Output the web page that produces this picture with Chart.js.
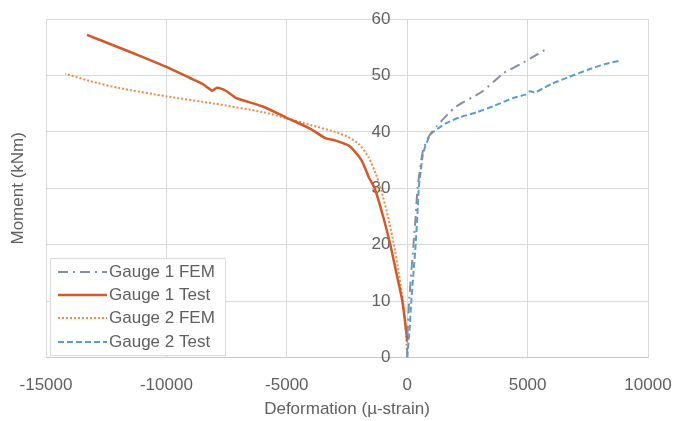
<!DOCTYPE html>
<html>
<head>
<meta charset="utf-8">
<script src="https://cdn.jsdelivr.net/npm/chart.js@4/dist/chart.umd.min.js"></script>
<style>
  html, body { margin: 0; padding: 0; background: #fff; }
</style>
</head>
<body>
<canvas id="chart" width="676" height="421"></canvas>
<script>
// ticks
const xTicks = [-15000, -10000, -5000, 0, 5000, 10000];
const yTicks = [0, 10, 20, 30, 40, 50, 60];

// Gauge 1 FEM (grey dash-dot)
const g1FemX = [0, 0, 80, 170, 260, 350, 430, 520, 660, 900, 1200, 2000, 3100, 4000, 4700, 5350, 5700];
const g1FemY = [0, 3, 10, 15, 20, 25, 30, 33, 36.8, 39.2, 40.9, 44.4, 47.1, 50.4, 52, 53.6, 54.5];

// Gauge 1 Test (orange solid)
const g1TestX = [0, -50, -200, -450, -700, -1000, -1350, -1600, -1900, -2400, -3000, -3400, -4000, -5000, -6000, -7100, -7500, -7900, -8100, -8500, -9000, -10000, -11000, -12000, -13300];
const g1TestY = [3, 5, 10, 15, 20, 25, 30, 32, 35, 37.5, 38.5, 38.9, 40.5, 42.5, 44.5, 46.0, 47.2, 47.8, 47.3, 48.5, 49.5, 51.5, 53.3, 55, 57.2];

// Gauge 2 FEM (orange dotted)
const g2FemX = [0, -60, -180, -350, -550, -800, -1100, -1300, -1600, -2000, -2500, -3000, -4000, -5000, -6000, -8000, -10000, -12000, -13000, -14200];
const g2FemY = [0, 5, 10, 15, 20, 25, 30, 32.5, 35.5, 37.8, 39.2, 40, 41.2, 42.4, 43.5, 45, 46.3, 47.8, 48.8, 50.3];

// Gauge 2 Test (blue dashed)
const g2TestX = [0, 100, 170, 260, 350, 420, 480, 560, 650, 800, 1000, 1600, 2200, 2900, 3600, 4400, 4900, 5100, 5300, 6000, 6700, 7500, 8200, 8800];
const g2TestY = [0, 5, 10, 15, 20, 25, 30, 33, 36, 38, 39.7, 41.5, 42.6, 43.5, 44.6, 46, 46.6, 47.2, 47, 48.5, 49.7, 51, 52, 52.6];

const pts = (xs, ys) => xs.map((x, i) => ({x: x, y: ys[i]}));

const TEXT = '#5f5f5f';
const FONT = '17px "Liberation Sans", Arial, sans-serif';
Chart.defaults.font.family = '"Liberation Sans", Arial, sans-serif';
Chart.defaults.font.size = 17;
Chart.defaults.color = TEXT;

// axis titles + legend box inside the plot, drawn by hand
const extras = {
    id: 'extras',
    afterDraw(chart){
        const ctx = chart.ctx;
        const area = chart.chartArea;
        ctx.save();
        ctx.fillStyle = TEXT;
        ctx.font = FONT;
        ctx.textAlign = 'center';
        ctx.textBaseline = 'middle';
        ctx.fillText('Deformation (\u00b5-strain)', (area.left + area.right) / 2, 409);
        ctx.translate(18, (area.top + area.bottom) / 2);
        ctx.rotate(-Math.PI / 2);
        ctx.fillText('Moment (kNm)', 0, 0);
        ctx.restore();

        // legend
        ctx.save();
        ctx.fillStyle = '#fff';
        ctx.fillRect(50, 258, 175, 97);
        ctx.strokeStyle = '#d9d9d9';
        ctx.lineWidth = 1;
        ctx.strokeRect(50.5, 258.5, 175, 97);
        const rows = [272, 295, 318, 342];
        chart.data.datasets.forEach((ds, i) => {
            const y = rows[i];
            ctx.beginPath();
            ctx.setLineDash(ds.borderDash || []);
            ctx.strokeStyle = ds.borderColor;
            ctx.lineWidth = ds.borderWidth;
            ctx.moveTo(58, y);
            ctx.lineTo(107, y);
            ctx.stroke();
            ctx.setLineDash([]);
            ctx.fillStyle = TEXT;
            ctx.font = FONT;
            ctx.textBaseline = 'middle';
            ctx.textAlign = 'left';
            ctx.fillText(ds.label, 109, y);
        });
        ctx.restore();
    }
};

const line = (label, data, color, width, dash) => ({
    label: label,
    data: data,
    borderColor: color,
    backgroundColor: color,
    borderWidth: width,
    borderDash: dash,
    pointRadius: 0,
    tension: 0.2,
    fill: false
});

new Chart(document.getElementById('chart'), {
    type: 'line',
    data: {
        datasets: [
            line('Gauge 1 FEM', pts(g1FemX, g1FemY), '#848f9c', 2, [10, 5, 2, 5]),
            line('Gauge 1 Test', pts(g1TestX, g1TestY), '#d25a2a', 2.5, []),
            line('Gauge 2 FEM', pts(g2FemX, g2FemY), '#ee8a4c', 2, [2, 2]),
            line('Gauge 2 Test', pts(g2TestX, g2TestY), '#5b9bd5', 2, [6, 3])
        ]
    },
    options: {
        responsive: false,
        animation: false,
        layout: { padding: { left: 46, right: 28, top: 19, bottom: 25 } },
        plugins: { legend: { display: false }, tooltip: { enabled: false } },
        scales: {
            x: {
                type: 'linear',
                min: -15000, max: 10000,
                afterBuildTicks: s => { s.ticks = xTicks.map(v => ({value: v})); },
                ticks: { padding: 0, callback: v => String(v) },
                grid: { color: '#d9d9d9', drawTicks: true, tickLength: 18, tickColor: 'rgba(0,0,0,0)' },
                border: { color: '#c8c8c8' }
            },
            y: {
                type: 'linear',
                position: { x: -700 },
                min: 0, max: 60,
                afterBuildTicks: s => { s.ticks = yTicks.map(v => ({value: v})); },
                afterFit: s => { s.width = 0; },
                ticks: { padding: 0, callback: v => String(v) },
                grid: { color: '#d9d9d9', drawTicks: false },
                border: { display: false }
            }
        }
    },
    plugins: [extras]
});
</script>
</body>
</html>
